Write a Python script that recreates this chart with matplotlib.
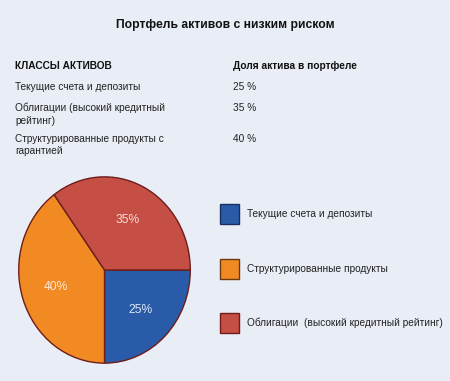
import matplotlib.pyplot as plt
from matplotlib.patches import Rectangle

plt.rcParams['font.family'] = ['Liberation Sans', 'DejaVu Sans']

title = 'Портфель активов с низким риском'
col_headers = ['КЛАССЫ АКТИВОВ', 'Доля актива в портфеле']
table_classes = ['Текущие счета и депозиты',
                 'Облигации (высокий кредитный\nрейтинг)',
                 'Структурированные продукты с\nгарантией']
table_shares = ['25 %', '35 %', '40 %']

pie_labels = ['Текущие счета и депозиты', 'Структурированные продукты',
              'Облигации  (высокий кредитный рейтинг)']
pie_values = [25, 40, 35]
pie_colors = ['#2a5ba8', '#f28a24', '#c64f45']
edge_colors = ['#1b2f5e', '#6b3a10', '#6e1d1a']
pct_colors = ['#dce8f6', '#fbe9d6', '#f6dcd8']

bg = '#e9edf6'
fig = plt.figure(figsize=(4.5, 3.81), dpi=100, facecolor=bg)
W, H = 450, 381
fs = 7.3


def fy(y):
    return 1 - y / H


fig.text(225 / W, fy(25), title, ha='center', va='center', fontsize=8.7,
         fontweight='bold', color='#111111')
fig.text(15 / W, fy(66), col_headers[0], ha='left', va='center', fontsize=fs,
         fontweight='bold', color='#111111')
fig.text(233 / W, fy(66), col_headers[1], ha='left', va='center', fontsize=fs,
         fontweight='bold', color='#111111')

row_y = [82, 103, 134]
for y, name, share in zip(row_y, table_classes, table_shares):
    fig.text(15 / W, fy(y), name, ha='left', va='top', fontsize=fs,
             color='#222222', linespacing=1.3)
    fig.text(233 / W, fy(y), share, ha='left', va='top', fontsize=fs,
             color='#222222')

# pie (slightly taller than wide, like the original)
ax = fig.add_axes([17 / W, (H - 365) / H, 175 / W, 190 / H])
wedges, texts, autotexts = ax.pie(
    pie_values, colors=pie_colors, startangle=0, counterclock=False,
    autopct='%d%%', pctdistance=0.6,
    wedgeprops=dict(edgecolor='#6e1d1a', linewidth=1.0),
    textprops=dict(fontsize=8.7))
for t, c in zip(autotexts, pct_colors):
    t.set_color(c)
ax.set_aspect('auto')
ax.set_xlim(-1.02, 1.02)
ax.set_ylim(-1.02, 1.02)
ax.axis('off')

# legend
leg_y = [214, 269, 323]
for y, lab, c, ec in zip(leg_y, pie_labels, pie_colors, edge_colors):
    fig.patches.append(Rectangle((220 / W, fy(y + 10)), 19 / W, 20 / H,
                                 facecolor=c, edgecolor=ec, linewidth=1.0,
                                 transform=fig.transFigure))
    fig.text(247 / W, fy(y), lab, ha='left', va='center', fontsize=fs,
             color='#222222')

fig.savefig('out.png', dpi=100, facecolor=bg)
